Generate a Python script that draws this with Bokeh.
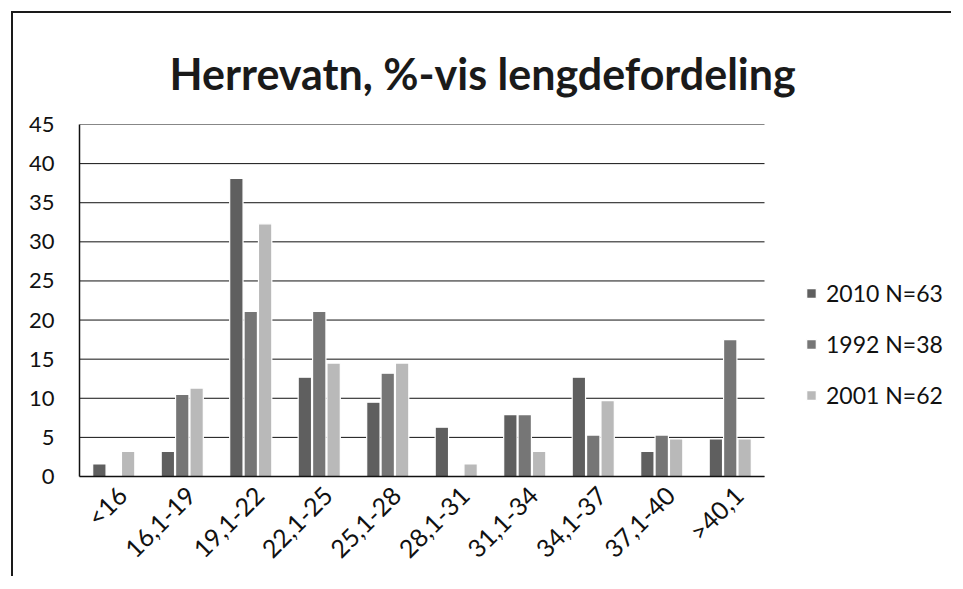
from bokeh.plotting import figure
from bokeh.models import ColumnDataSource, Range1d, FixedTicker, Legend, LegendItem
from bokeh.transform import dodge
from bokeh.embed import file_html
from bokeh.resources import INLINE
import math

categories = ["<16", "16,1-19", "19,1-22", "22,1-25", "25,1-28",
              "28,1-31", "31,1-34", "34,1-37", "37,1-40", ">40,1"]
v2010 = [1.6, 3.2, 38.1, 12.7, 9.5, 6.3, 7.9, 12.7, 3.2, 4.8]
v1992 = [0.0, 10.5, 21.1, 21.1, 13.2, 0.0, 7.9, 5.3, 5.3, 17.5]
v2001 = [3.2, 11.3, 32.3, 14.5, 14.5, 1.6, 3.2, 9.7, 4.8, 4.8]
series_labels = ["2010 N=63", "1992 N=38", "2001 N=62"]
y_ticks = [0, 5, 10, 15, 20, 25, 30, 35, 40, 45]

n = len(categories)
centers = [i + 0.5 for i in range(n)]
source = ColumnDataSource(data=dict(x=centers, a=v2010, b=v1992, c=v2001))

FONT = "Lato"
W, H = 940, 565
ML, MR, MT, MB = 66, 4, 111, 102
cat_px = 68.5
x_end = (W - ML - MR) / cat_px

p = figure(x_range=Range1d(0, x_end), y_range=Range1d(0, 45),
           width=W, height=H, output_backend="svg", toolbar_location=None,
           min_border_left=ML, min_border_right=MR, min_border_top=MT,
           min_border_bottom=MB)
p.margin = (11, 0, 0, 11)
p.styles = {"border-top": "2px solid #1a1a1a", "border-left": "2px solid #1a1a1a"}

# horizontal gridlines over the category span only
p.segment(x0=[0] * len(y_ticks), x1=[n] * len(y_ticks), y0=y_ticks, y1=y_ticks,
          line_color="#111111", line_width=1)

colors = ["#5f5f5f", "#767676", "#b9b9b9"]
offs = [-0.21, 0.0, 0.21]
renderers = []
for col, color, off in zip(["a", "b", "c"], colors, offs):
    r = p.vbar(x=dodge("x", off), top=col, width=0.195,
               source=source, fill_color=color, line_color="white", line_width=1.2)
    renderers.append(r)

p.title.text = "Herrevatn, %-vis lengdefordeling"
p.title.align = "left"
p.title.offset = 90
p.title.text_font = FONT
p.title.text_font_style = "bold"
p.title.text_font_size = "43px"
p.title.text_color = "#1a1a1a"
p.title.standoff = 52

p.xgrid.grid_line_color = None
p.ygrid.grid_line_color = None
p.outline_line_color = None
p.background_fill_color = "white"
p.border_fill_color = "white"

p.yaxis.ticker = FixedTicker(ticks=y_ticks)
p.yaxis.major_tick_out = 0
p.yaxis.major_tick_in = 0
p.yaxis.minor_tick_out = 0
p.yaxis.minor_tick_in = 0
p.yaxis.major_label_standoff = 25
p.yaxis.major_label_text_font = FONT
p.yaxis.major_label_text_font_size = "22px"
p.yaxis.major_label_text_color = "#111111"
p.yaxis.axis_line_color = "#111111"
p.yaxis.axis_line_width = 1.5

label_pos = [c + 0.12 for c in centers]
p.xaxis.ticker = FixedTicker(ticks=label_pos)
p.xaxis.major_label_overrides = {c: lab for c, lab in zip(label_pos, categories)}
p.xaxis.bounds = (0, n)
p.xaxis.major_tick_out = 0
p.xaxis.major_tick_in = 0
p.xaxis.minor_tick_out = 0
p.xaxis.minor_tick_in = 0
p.xaxis.major_label_orientation = math.pi / 4
p.xaxis.major_label_standoff = 14
p.xaxis.major_label_text_font = FONT
p.xaxis.major_label_text_font_size = "25px"
p.xaxis.major_label_text_color = "#111111"
p.xaxis.axis_line_color = "#111111"
p.xaxis.axis_line_width = 1.5

legend = Legend(items=[LegendItem(label=lab, renderers=[r]) for lab, r in zip(series_labels, renderers)],
                location=(726, 67), border_line_color=None, background_fill_alpha=0,
                padding=0, margin=0, glyph_width=12, glyph_height=12, label_standoff=9,
                spacing=23, label_height=24, label_text_font=FONT,
                label_text_font_size="23px", label_text_color="#111111")
p.add_layout(legend)

open("out.html", "w").write(file_html(p, INLINE))
